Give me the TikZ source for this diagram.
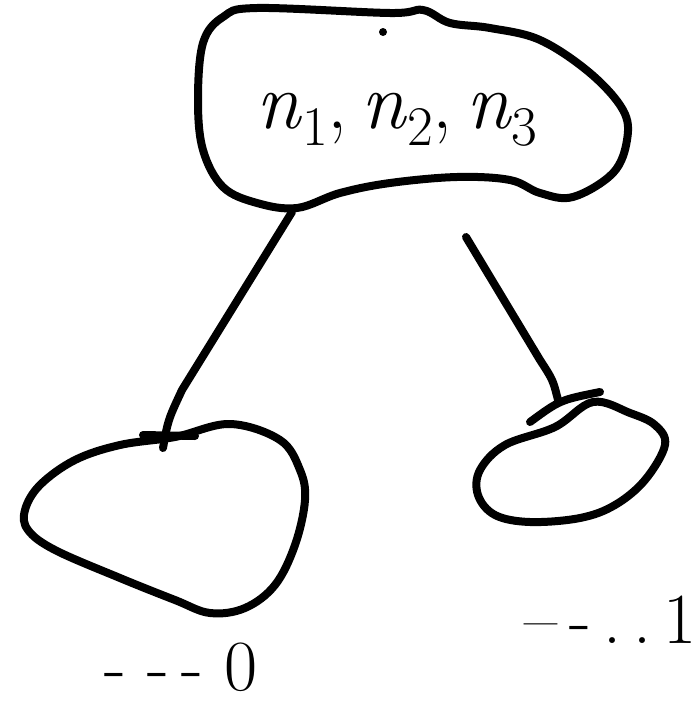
\documentclass[tikz,border=0pt]{standalone}
\usepackage{fontspec}
\newcommand{\nsub}[1]{\textit{n}\raisebox{-0.22em}{\fontsize{56}{56}\selectfont #1}}
\begin{document}
\begin{tikzpicture}[x=1pt,y=-1pt, line cap=round, line join=round,
  stroke/.style={draw=black, line width=8pt},
  lbl/.style={font=\fontsize{72}{80}\selectfont, inner sep=0pt}]
\useasboundingbox[fill=white] (0,0) rectangle (700,707);
% top blob
\draw[stroke] plot[smooth cycle, tension=0.6] coordinates {(203,43) (223,17) (257,8) (390,13) (423,10) (450,23) (490,28) (540,40) (590,73) (623,110) (627,140) (613,173) (573,197) (540,193) (510,180) (457,177) (390,183) (340,193) (297,208) (257,203) (223,187) (203,150) (198,100)};
\fill (383,32) circle (4pt);
\node[lbl, font=\fontsize{80}{88}\selectfont] (top) at (397,120) {\nsub{1},\,\nsub{2},\,\nsub{3}};
% left blob
\draw[stroke] plot[smooth cycle, tension=0.6] coordinates {(175,437) (230,424) (280,440) (300,470) (305,500) (295,545) (275,585) (245,608) (210,613) (175,600) (120,578) (55,550) (28,530) (25,510) (40,485) (75,460) (120,445)};
\draw[stroke] (143,435) -- (195,436);
% right blob
\draw[stroke] plot[smooth cycle, tension=0.6] coordinates {(593,402) (630,413) (655,425) (665,445) (645,480) (615,505) (580,518) (530,522) (495,515) (478,495) (480,470) (505,445) (555,427)};
\draw[stroke] (530,422) .. controls (560,400) .. (600,392);
% connectors
\coordinate (tl) at (292,212);
\coordinate (lb) at (163,448);
\coordinate (tr) at (466,237);
\coordinate (rb) at (558,400);
\draw[stroke] (tl) -- (182,390) .. controls (168,420) .. (lb);
\draw[stroke] (tr) -- (540,360) .. controls (553,380) .. (rb);
% bottom labels
\node[lbl, anchor=base west] (zero) at (104,690) {-\ -\,-\ 0};
\node[lbl, anchor=base east] (one) at (697,643) {--\,-\,.\,.\,1};
\end{tikzpicture}
\end{document}
